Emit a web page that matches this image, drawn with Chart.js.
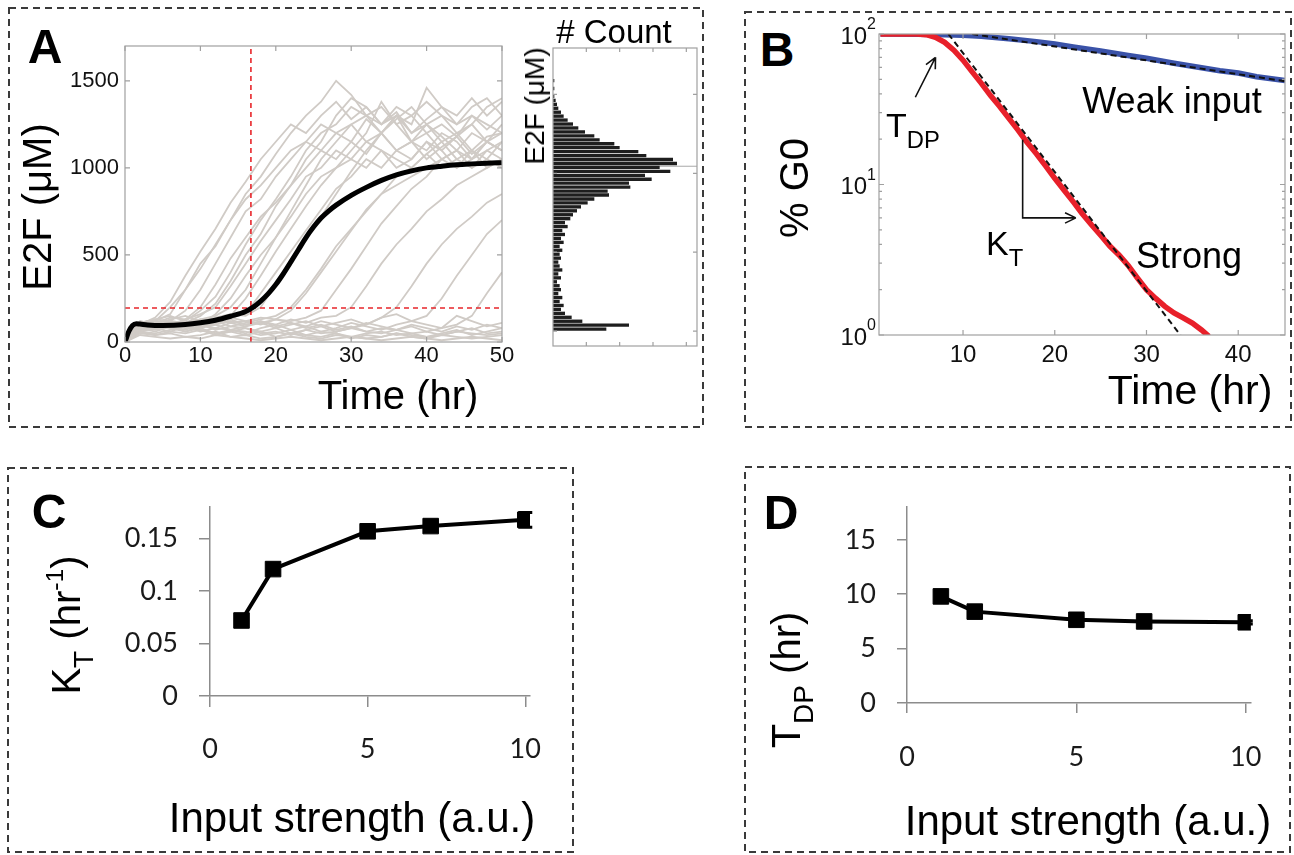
<!DOCTYPE html>
<html>
<head>
<meta charset="utf-8">
<script src="https://cdn.jsdelivr.net/npm/chart.js@4.4.1/dist/chart.umd.min.js"></script>
<style>
  body { margin: 0; background: #fff; width: 1294px; height: 855px; position: relative; overflow: hidden;
         font-family: 'Liberation Sans', Arial, sans-serif; }
  canvas { position: absolute; }
  .t { position: absolute; white-space: nowrap; line-height: 1; color: #000; transform: translate(-50%, -50%); }
  .t.l { transform: translate(0, -50%); }
  .t.r { transform: translate(-50%, -50%) rotate(-90deg); }
  .t.b { font-weight: bold; }
  .t sub { font-size: 0.7em; vertical-align: -0.45em; line-height: 0; }
  .t sup { font-size: 0.62em; vertical-align: 0.7em; line-height: 0; }
</style>
</head>
<body>
<svg width="1294" height="855" style="position:absolute;left:0;top:0">
  <g fill="none" stroke="#3a3a3a" stroke-width="2" stroke-dasharray="7 5">
    <rect x="9" y="8" width="694" height="419"/>
    <rect x="745" y="12" width="546" height="415"/>
    <rect x="8" y="468" width="565" height="384"/>
    <rect x="745" y="467" width="545" height="385"/>
  </g>
</svg>
<canvas id="chartA" width="520" height="430" style="left:0;top:0"></canvas>
<canvas id="chartHist" width="160" height="310" style="left:540px;top:40px"></canvas>
<canvas id="chartB" width="480" height="405" style="left:810px;top:15px"></canvas>
<canvas id="chartC" width="560" height="380" style="left:10px;top:470px"></canvas>
<canvas id="chartD" width="540" height="380" style="left:750px;top:470px"></canvas>

<script>
// ---- Panel A: single-cell E2F trajectories ----
const traceHours = [0, 2, 4, 6, 8, 10, 12, 14, 16, 18, 20, 22, 24, 26, 28, 30, 32, 34, 36, 38, 40, 42, 44, 46, 48, 50];
const greyTraces = [
  [0, 100, 140, 230, 380, 520, 650, 800, 920, 1050, 1150, 1250, 1200, 1300, 1380, 1280, 1350, 1250, 1320, 1200, 1280, 1350, 1250, 1300, 1220, 1300],
  [0, 90, 120, 160, 300, 420, 560, 700, 850, 950, 1080, 1200, 1300, 1380, 1500, 1420, 1300, 1250, 1350, 1300, 1200, 1250, 1180, 1300, 1250, 1200],
  [0, 110, 130, 120, 180, 300, 450, 600, 750, 820, 950, 1050, 1150, 1250, 1200, 1150, 1280, 1200, 1100, 1150, 1250, 1180, 1100, 1200, 1150, 1250],
  [0, 95, 110, 140, 130, 200, 330, 480, 600, 720, 800, 900, 1000, 1100, 1050, 1150, 1080, 1200, 1100, 1150, 1050, 1120, 1180, 1080, 1150, 1100],
  [0, 80, 100, 120, 110, 150, 220, 350, 500, 620, 780, 900, 1050, 1150, 1300, 1400, 1350, 1250, 1300, 1200, 1250, 1150, 1200, 1100, 1180, 1200],
  [0, 70, 90, 100, 120, 100, 160, 250, 380, 500, 600, 720, 850, 950, 1000, 1050, 1000, 1100, 1050, 1000, 1080, 1150, 1050, 1000, 1100, 1050],
  [0, 60, 80, 90, 100, 120, 110, 150, 250, 380, 520, 650, 780, 900, 1000, 1100, 1200, 1380, 1250, 1150, 1200, 1100, 1180, 1250, 1150, 1200],
  [0, 100, 120, 110, 90, 130, 120, 140, 160, 280, 400, 520, 640, 760, 880, 950, 1050, 1000, 1100, 1050, 1150, 1100, 1000, 1050, 1100, 1150],
  [0, 120, 100, 130, 150, 120, 140, 160, 150, 200, 330, 450, 600, 720, 850, 980, 1100, 1200, 1300, 1250, 1460, 1350, 1300, 1400, 1300, 1380],
  [0, 90, 110, 100, 80, 100, 120, 90, 110, 130, 150, 200, 300, 420, 550, 650, 750, 850, 900, 950, 1000, 1050, 1100, 1050, 1150, 1100],
  [0, 80, 60, 90, 70, 100, 80, 110, 90, 120, 100, 130, 110, 140, 150, 200, 320, 450, 560, 650, 750, 820, 900, 950, 1000, 1050],
  [0, 70, 90, 80, 60, 90, 100, 70, 90, 110, 80, 100, 120, 90, 110, 130, 100, 140, 200, 320, 450, 560, 650, 720, 800, 850],
  [0, 60, 50, 70, 90, 60, 80, 70, 50, 80, 100, 70, 90, 60, 80, 110, 90, 70, 100, 120, 150, 250, 380, 500, 620, 700],
  [0, 50, 40, 60, 50, 70, 40, 60, 80, 50, 60, 40, 70, 50, 60, 80, 60, 50, 70, 90, 60, 80, 100, 150, 280, 400],
  [0, 80, 70, 90, 60, 80, 50, 70, 60, 40, 50, 70, 40, 60, 50, 30, 50, 60, 40, 50, 30, 40, 60, 50, 40, 50],
  [0, 60, 40, 50, 30, 40, 60, 30, 40, 20, 30, 50, 30, 20, 40, 30, 20, 30, 50, 30, 20, 40, 30, 20, 30, 40],
  [0, 100, 90, 110, 80, 100, 70, 90, 80, 60, 80, 50, 70, 90, 60, 80, 100, 140, 160, 120, 100, 80, 150, 120, 90, 110],
  [0, 40, 30, 20, 30, 20, 40, 30, 20, 10, 20, 30, 20, 10, 20, 30, 20, 10, 20, 30, 20, 10, 20, 30, 20, 10],
  [0, 90, 110, 100, 120, 90, 110, 130, 100, 120, 90, 110, 80, 100, 70, 90, 60, 80, 70, 50, 60, 40, 60, 80, 50, 60],
  [0, 70, 80, 60, 90, 70, 50, 60, 40, 60, 30, 50, 40, 30, 50, 20, 40, 30, 50, 40, 30, 50, 70, 40, 60, 80],
  [0, 110, 130, 150, 120, 180, 260, 400, 560, 700, 820, 950, 1100, 1200, 1250, 1350, 1300, 1200, 1280, 1350, 1250, 1300, 1200, 1250, 1350, 1400],
  [0, 80, 100, 90, 110, 100, 130, 110, 120, 140, 130, 180, 280, 400, 520, 640, 760, 850, 950, 1000, 1080, 1000, 1050, 1100, 1000, 1050],
  [0, 100, 120, 200, 300, 450, 550, 700, 820, 900, 1000, 1100, 1150, 1100, 1200, 1250, 1150, 1200, 1300, 1150, 1100, 1200, 1150, 1050, 1150, 1100],
  [0, 90, 110, 100, 130, 160, 200, 320, 450, 580, 700, 820, 950, 1000, 1100, 1050, 1150, 1100, 1000, 1050, 1150, 1050, 1100, 1000, 1050, 1000],
  [0, 70, 90, 110, 100, 80, 100, 120, 100, 110, 130, 120, 140, 180, 300, 420, 550, 680, 780, 880, 950, 1050, 1000, 1100, 1050, 1150],
  [0, 110, 90, 120, 100, 130, 110, 140, 120, 100, 130, 110, 90, 120, 100, 80, 110, 90, 70, 100, 80, 60, 90, 70, 100, 80],
  [0, 80, 100, 120, 110, 130, 150, 200, 300, 450, 600, 750, 900, 1050, 1150, 1250, 1300, 1350, 1250, 1300, 1380, 1300, 1250, 1350, 1400, 1300]
];
const meanHours = [0, 0.5, 1, 1.5, 2, 3, 5, 8, 10, 12, 14, 16, 17, 18, 19, 20, 21, 22, 23, 24, 25, 26, 27, 28, 30, 32, 34, 36, 38, 40, 42, 44, 46, 48, 50];
const meanE2F = [0, 60, 95, 105, 103, 98, 95, 100, 110, 125, 148, 175, 200, 235, 278, 330, 392, 460, 530, 600, 660, 712, 752, 786, 842, 888, 928, 960, 983, 1000, 1010, 1018, 1023, 1027, 1030];
const thresholdHour = 16.7;
const thresholdE2F = 195;
const timeTicksA = [0, 10, 20, 30, 40, 50];
const e2fTicks = [0, 500, 1000, 1500];

// histogram of E2F (side panel)
const histBins = [12.5, 37.5, 62.5, 87.5, 112.5, 137.5, 162.5, 187.5, 212.5, 237.5,
  262.5, 287.5, 312.5, 337.5, 362.5, 387.5, 412.5, 437.5, 462.5, 487.5,
  512.5, 537.5, 562.5, 587.5, 612.5, 637.5, 662.5, 687.5, 712.5, 737.5,
  762.5, 787.5, 812.5, 837.5, 862.5, 887.5, 912.5, 937.5, 962.5, 987.5,
  1012.5, 1037.5, 1062.5, 1087.5, 1112.5, 1137.5, 1162.5, 1187.5, 1212.5, 1237.5,
  1262.5, 1287.5, 1312.5, 1337.5, 1362.5, 1387.5, 1412.5, 1437.5, 1462.5, 1487.5,
  1512.5, 1537.5, 1562.5, 1587.5];
const histCounts = [40, 57, 22, 14, 9, 6, 8, 5, 7, 4,
  6, 5, 3, 6, 4, 7, 5, 4, 6, 5,
  7, 5, 8, 6, 9, 7, 11, 9, 13, 15,
  18, 21, 26, 31, 42, 41, 58, 57, 74, 69,
  88, 80, 93, 90, 70, 64, 50, 46, 35, 31,
  24, 19, 15, 11, 8, 6, 4, 3, 2, 1,
  0, 1, 0, 1];
const histPeak = 1045;
const countTicks = [25, 50, 75, 100];

// ---- Panel B: % cells in G0 ----
const weakHours = [1, 5, 8, 10, 12, 15, 18, 20, 22, 25, 28, 30, 33, 35, 38, 40, 42, 45.1];
const weakPct = [100, 99.8, 99, 98, 96.5, 93, 89, 86, 82, 77, 72, 69, 64, 61, 57, 55, 52, 49];
const strongHours = [1, 5, 6, 7, 8, 9, 10, 11, 12, 13, 14, 15, 16, 17, 18, 19, 20, 21, 22, 23, 24, 25, 26, 27, 28, 29, 30, 31, 32, 33, 34, 35, 36, 36.8];
const strongPct = [100, 100, 99, 95, 88, 78, 67, 56, 47, 39, 33, 27.5, 23, 19, 16, 13.3, 11, 9.2, 7.7, 6.4, 5.4, 4.6, 3.9, 3.4, 2.9, 2.4, 2.0, 1.75, 1.55, 1.4, 1.3, 1.2, 1.08, 0.98];
const weakFitHours = [11, 45.1];
const weakFitPct = [100, 48.5];
const strongFitHours = [8.4, 33.7];
const strongFitPct = [100, 1];
const timeTicksB = [10, 20, 30, 40];
const pctTicks = [1, 10, 100];
const tdpArrowTail = [4.8, 38];
const tdpArrowHead = [7.0, 70];
const ktTop = [16.5, 19.8];
const ktCorner = [16.5, 6.0];
const ktEnd = [22.3, 6.0];

// ---- Panels C and D: vs input strength ----
const inputStrength = [1, 2, 5, 7, 10];
const ktValues = [0.072, 0.121, 0.157, 0.162, 0.168];
const ktErr = [0.003, 0.003, 0.006, 0.005, 0.007];
const tdpValues = [9.8, 8.4, 7.65, 7.5, 7.42];
const tdpErr = [0.4, 0.2, 0.15, 0.15, 0.15];
const strengthTicks = [0, 5, 10];
const ktTicks = [0, 0.05, 0.1, 0.15];
const tdpTicks = [0, 5, 10, 15];

const ARIAL = "'Liberation Sans', Arial, sans-serif";
const EXCEL = "Lato, 'Open Sans', sans-serif";

function pts(xs, ys) { return xs.map((x, i) => ({ x: x, y: ys[i] })); }
function setTicks(vals) { return s => { s.ticks = vals.map(v => ({ value: v })); }; }

// MATLAB-like box with inward ticks
const matlabBox = {
  id: 'matlabBox',
  afterDatasetsDraw(chart, args, o) {
    const { ctx, chartArea: a, scales } = chart;
    ctx.save();
    ctx.strokeStyle = '#a0a0a0';
    ctx.lineWidth = 1.2;
    ctx.strokeRect(a.left, a.top, a.right - a.left, a.bottom - a.top);
    ctx.beginPath();
    const L = o.len || 5;
    (o.xTicks || []).forEach(v => {
      const x = scales.x.getPixelForValue(v);
      ctx.moveTo(x, a.bottom); ctx.lineTo(x, a.bottom - L);
      ctx.moveTo(x, a.top); ctx.lineTo(x, a.top + L);
    });
    (o.yTicks || []).forEach(v => {
      const y = scales.y.getPixelForValue(v);
      ctx.moveTo(a.left, y); ctx.lineTo(a.left + L, y);
      ctx.moveTo(a.right, y); ctx.lineTo(a.right - L, y);
    });
    (o.yMinor || []).forEach(v => {
      const y = scales.y.getPixelForValue(v);
      ctx.moveTo(a.left, y); ctx.lineTo(a.left + L * 0.6, y);
      ctx.moveTo(a.right, y); ctx.lineTo(a.right - L * 0.6, y);
    });
    ctx.stroke();
    ctx.restore();
  }
};

// ---- Chart A ----
new Chart(document.getElementById('chartA'), {
  type: 'line',
  data: {
    datasets: [
      { data: pts(meanHours, meanE2F), borderColor: '#000', borderWidth: 5, pointRadius: 0,
        cubicInterpolationMode: 'monotone', order: 0 },
      { data: pts([thresholdHour, thresholdHour], [0, 1700]), borderColor: '#e8262b', borderWidth: 1.6,
        borderDash: [5, 4], pointRadius: 0, order: 1 },
      { data: pts([0, 50], [thresholdE2F, thresholdE2F]), borderColor: '#e8262b', borderWidth: 1.6,
        borderDash: [5, 4], pointRadius: 0, order: 1 },
      ...greyTraces.map(tr => ({ data: pts(traceHours, tr), borderColor: '#d0cbc6', borderWidth: 1.8,
        pointRadius: 0, order: 2 }))
    ]
  },
  options: {
    responsive: false, animation: false, events: [],
    layout: { padding: { left: 0, top: 46, right: 18, bottom: 48 } },
    scales: {
      x: { type: 'linear', min: 0, max: 50, afterBuildTicks: setTicks(timeTicksA), afterFit: s => { s.height = 40; },
           grid: { display: false, drawTicks: false }, border: { display: false },
           ticks: { font: { family: ARIAL, size: 22 }, color: '#111', padding: 1, maxRotation: 0, callback: v => String(v) } },
      y: { type: 'linear', min: 0, max: 1700, afterBuildTicks: setTicks(e2fTicks), afterFit: s => { s.width = 125; },
           grid: { display: false, drawTicks: false }, border: { display: false },
           ticks: { font: { family: ARIAL, size: 22 }, color: '#111', padding: 6, callback: v => String(v) } }
    },
    plugins: { legend: { display: false }, tooltip: { enabled: false },
               matlabBox: { xTicks: timeTicksA, yTicks: e2fTicks } }
  },
  plugins: [matlabBox]
});

// ---- Histogram beside A ----
new Chart(document.getElementById('chartHist'), {
  type: 'bar',
  data: {
    datasets: [
      { type: 'line', data: pts([0, 108], [histPeak, histPeak]), borderColor: '#a8a8a8', borderWidth: 1,
        pointRadius: 0, order: 1 },
      { data: histCounts.map((c, i) => ({ x: c, y: histBins[i] })), backgroundColor: '#1e1e1e',
        barPercentage: 0.85, categoryPercentage: 1, order: 0 }
    ]
  },
  options: {
    indexAxis: 'y', responsive: false, animation: false, events: [],
    layout: { padding: { left: 13, top: 8, right: 3, bottom: 4 } },
    scales: {
      x: { type: 'linear', min: 0, max: 108, display: false },
      y: { type: 'linear', min: 0, max: 1700, display: false }
    },
    plugins: { legend: { display: false }, tooltip: { enabled: false },
               matlabBox: { xTicks: countTicks, yTicks: e2fTicks, len: 4 } }
  },
  plugins: [matlabBox]
});

// ---- Chart B ----
const logLabels = {
  id: 'logLabels',
  afterDraw(chart) {
    const { ctx, chartArea: a, scales: { y } } = chart;
    ctx.save();
    ctx.fillStyle = '#111';
    ctx.textAlign = 'right';
    ctx.textBaseline = 'middle';
    pctTicks.forEach(v => {
      const py = y.getPixelForValue(v);
      const e = String(Math.round(Math.log10(v)));
      ctx.font = '16px ' + ARIAL;
      const ew = ctx.measureText(e).width;
      ctx.fillText(e, a.left - 3, py - 9);
      ctx.font = '24px ' + ARIAL;
      ctx.fillText('10', a.left - 3 - ew, py + 3);
    });
    ctx.restore();
  }
};
function arrowHead(ctx, x0, y0, x1, y1) {
  const ang = Math.atan2(y1 - y0, x1 - x0), L = 12, w = 0.45;
  ctx.moveTo(x1, y1); ctx.lineTo(x1 - L * Math.cos(ang - w), y1 - L * Math.sin(ang - w));
  ctx.moveTo(x1, y1); ctx.lineTo(x1 - L * Math.cos(ang + w), y1 - L * Math.sin(ang + w));
}
const bArrows = {
  id: 'bArrows',
  afterDatasetsDraw(chart) {
    const { ctx, scales: { x, y } } = chart;
    const P = p => [x.getPixelForValue(p[0]), y.getPixelForValue(p[1])];
    ctx.save();
    ctx.strokeStyle = '#111';
    ctx.lineWidth = 1.6;
    ctx.beginPath();
    const [ax, ay] = P(tdpArrowTail), [bx, by] = P(tdpArrowHead);
    ctx.moveTo(ax, ay); ctx.lineTo(bx, by);
    arrowHead(ctx, ax, ay, bx, by);
    const [tx, ty] = P(ktTop), [cx, cy] = P(ktCorner), [ex, ey] = P(ktEnd);
    ctx.moveTo(tx, ty); ctx.lineTo(cx, cy); ctx.lineTo(ex, ey);
    arrowHead(ctx, cx, cy, ex, ey);
    ctx.stroke();
    ctx.restore();
  }
};
new Chart(document.getElementById('chartB'), {
  type: 'line',
  data: {
    datasets: [
      { data: pts(weakFitHours, weakFitPct), borderColor: '#111', borderWidth: 2, borderDash: [6, 4], pointRadius: 0, order: 0 },
      { data: pts(strongFitHours, strongFitPct), borderColor: '#111', borderWidth: 2, borderDash: [6, 4], pointRadius: 0, order: 0 },
      { data: pts(strongHours, strongPct), borderColor: '#e8202a', borderWidth: 5.5, pointRadius: 0, order: 1 },
      { data: pts(weakHours, weakPct), borderColor: '#3a52a8', borderWidth: 5.5, pointRadius: 0, order: 2 }
    ]
  },
  options: {
    responsive: false, animation: false, events: [],
    layout: { padding: { left: 0, top: 19, right: 5, bottom: 45 } },
    scales: {
      x: { type: 'linear', min: 0.84, max: 45.1, afterBuildTicks: setTicks(timeTicksB), afterFit: s => { s.height = 40; },
           grid: { display: false, drawTicks: false }, border: { display: false },
           ticks: { font: { family: ARIAL, size: 24 }, color: '#111', padding: 6, maxRotation: 0 } },
      y: { type: 'logarithmic', min: 1, max: 100, afterBuildTicks: setTicks(pctTicks), afterFit: s => { s.width = 69; },
           grid: { display: false, drawTicks: false }, border: { display: false },
           ticks: { display: false } }
    },
    plugins: { legend: { display: false }, tooltip: { enabled: false },
               matlabBox: { xTicks: timeTicksB, yTicks: pctTicks,
                            yMinor: [2, 3, 4, 5, 6, 7, 8, 9, 20, 30, 40, 50, 60, 70, 80, 90] } }
  },
  plugins: [matlabBox, logLabels, bArrows]
});

// ---- Charts C and D (spreadsheet style) ----
const errorBars = {
  id: 'errorBars',
  beforeDatasetsDraw(chart, args, o) {
    const { ctx, scales: { x, y } } = chart;
    ctx.save();
    ctx.strokeStyle = '#000';
    ctx.lineWidth = 3;
    ctx.beginPath();
    o.xs.forEach((v, i) => {
      const px = x.getPixelForValue(v);
      const y0 = y.getPixelForValue(o.ys[i] - o.err[i]), y1 = y.getPixelForValue(o.ys[i] + o.err[i]);
      ctx.moveTo(px, y0); ctx.lineTo(px, y1);
      ctx.moveTo(px - 7, y0); ctx.lineTo(px + 7, y0);
      ctx.moveTo(px - 7, y1); ctx.lineTo(px + 7, y1);
    });
    ctx.stroke();
    ctx.restore();
  }
};
function excelChart(id, ys, err, yMax, yTicks, pad, yWidth, tickLen, xPad) {
  const axisGrid = { display: true, drawOnChartArea: false, drawTicks: true, tickLength: tickLen, color: '#8c8c8c', lineWidth: 1.5 };
  return new Chart(document.getElementById(id), {
    type: 'line',
    data: { datasets: [{ data: pts(inputStrength, ys), borderColor: '#000', borderWidth: 4, pointStyle: 'rect',
                         pointRadius: 11, pointBackgroundColor: '#000', pointBorderColor: '#000', pointBorderWidth: 1 }] },
    options: {
      responsive: false, animation: false, events: [],
      layout: { padding: pad },
      scales: {
        x: { type: 'linear', min: 0, max: 10.15, afterBuildTicks: setTicks(strengthTicks), afterFit: s => { s.height = 100; },
             grid: axisGrid, border: { display: true, color: '#8c8c8c', width: 1.5 },
             ticks: { font: { family: EXCEL, size: 27 }, color: '#1a1a1a', padding: xPad, maxRotation: 0 } },
        y: { type: 'linear', min: 0, max: yMax, afterBuildTicks: setTicks(yTicks), afterFit: s => { s.width = yWidth; },
             grid: axisGrid, border: { display: true, color: '#8c8c8c', width: 1.5 },
             ticks: { font: { family: EXCEL, size: 27 }, color: '#1a1a1a', padding: 21, callback: v => String(v) } }
      },
      plugins: { legend: { display: false }, tooltip: { enabled: false },
                 errorBars: { xs: inputStrength, ys: ys, err: err } }
    },
    plugins: [errorBars]
  });
}
excelChart('chartC', ktValues, ktErr, 0.18, ktTicks, { left: 0, top: 21, right: 40, bottom: 54 }, 200, 11, 26);
excelChart('chartD', tdpValues, tdpErr, 18, tdpTicks, { left: 0, top: 17, right: 38, bottom: 47 }, 157, 10, 28);

// ---- Text labels ----
function txt(html, x, y, size, cls) {
  const d = document.createElement('div');
  d.className = 't ' + (cls || '');
  d.innerHTML = html;
  d.style.left = x + 'px';
  d.style.top = y + 'px';
  d.style.fontSize = size + 'px';
  document.body.appendChild(d);
}
txt('A', 45, 47, 48, 'b');
txt('B', 777, 50, 48, 'b');
txt('C', 49, 512, 48, 'b');
txt('D', 781, 513, 48, 'b');
txt('E2F (μM)', 37, 207, 40, 'r');
txt('Time (hr)', 398, 395, 40);
txt('# Count', 614, 31, 33);
txt('E2F (μM)', 535, 106, 28, 'r');
txt('% G0', 794, 188, 40, 'r');
txt('Time (hr)', 1190, 390, 41);
txt('Weak input', 1172, 101, 36);
txt('Strong', 1189, 256, 36);
txt('T<sub>DP</sub>', 886, 125, 34, 'l');
txt('K<sub>T</sub>', 986, 243, 34, 'l');
txt('K<sub>T</sub> (hr<sup>-1</sup>)', 66, 625, 40, 'r');
txt('T<sub>DP</sub> (hr)', 786, 680, 40, 'r');
txt('Input strength (a.u.)', 352, 818, 42);
txt('Input strength (a.u.)', 1088, 821, 42);
</script>
</body>
</html>
